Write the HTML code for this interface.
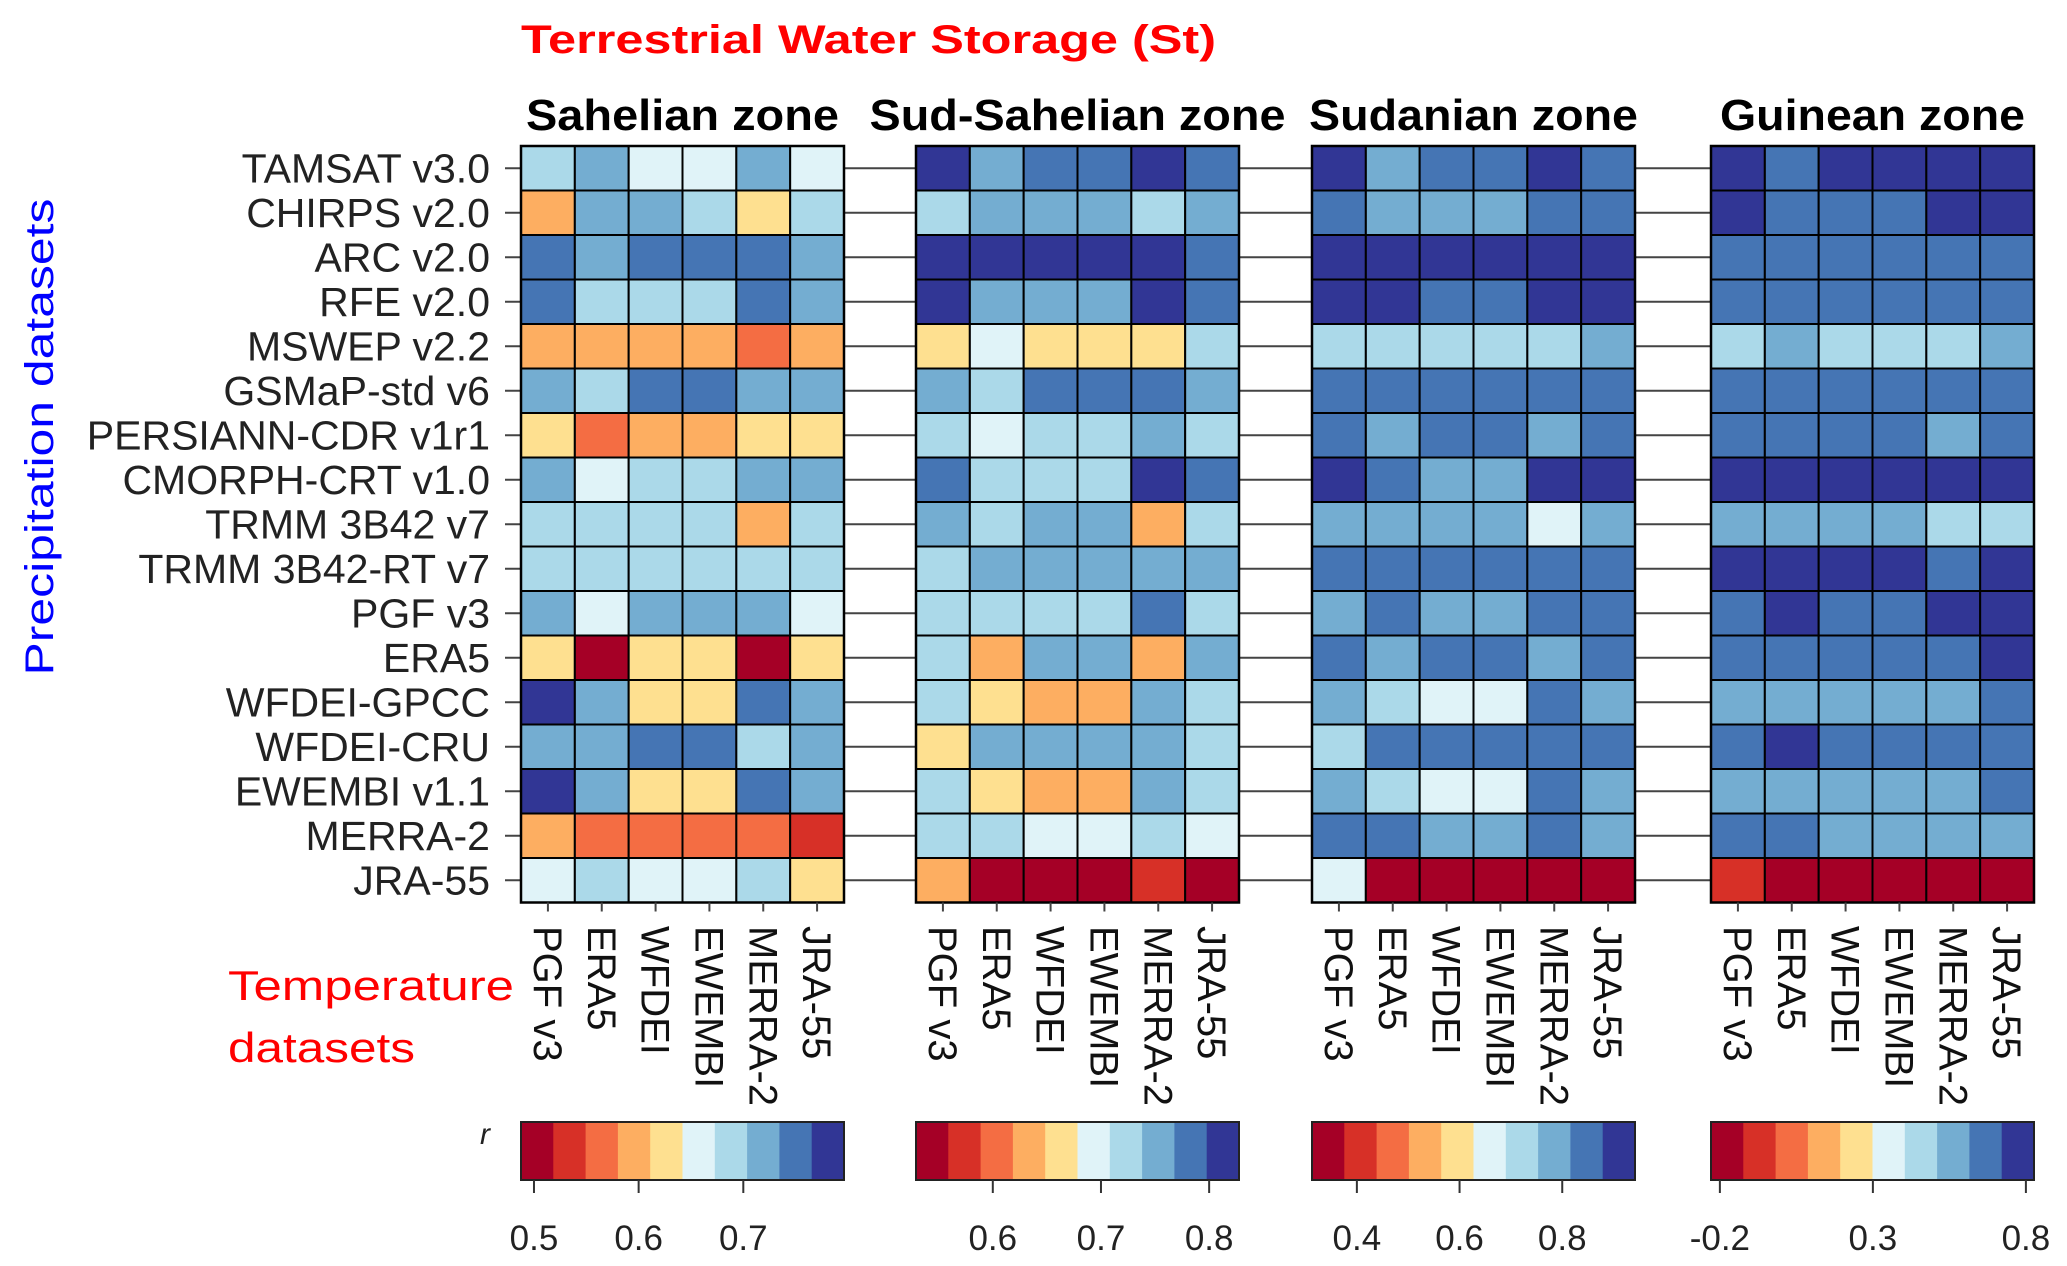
<!DOCTYPE html>
<html><head><meta charset="utf-8"><style>
html,body{margin:0;padding:0;background:#fff;}
svg{display:block;font-family:"Liberation Sans",Arial,sans-serif;}
</style></head><body>
<svg id="chart" width="2067" height="1266" viewBox="0 0 2067 1266" xmlns="http://www.w3.org/2000/svg">
<text x="521" y="53" font-size="40" font-weight="bold" fill="#ff0000" textLength="695" lengthAdjust="spacingAndGlyphs">Terrestrial Water Storage (St)</text>
<text transform="translate(53,437) rotate(-90)" text-anchor="middle" font-size="40" fill="#0000ff" textLength="477" lengthAdjust="spacingAndGlyphs">Precipitation datasets</text>
<text x="228" y="1000" font-size="42" fill="#ff0000" textLength="286" lengthAdjust="spacingAndGlyphs">Temperature</text>
<text x="228" y="1062" font-size="42" fill="#ff0000" textLength="187" lengthAdjust="spacingAndGlyphs">datasets</text>
<text x="480" y="1144" font-size="30" font-style="italic" fill="#222">r</text>
<g id="g"></g>
</svg>
<script>
const rowLabels = ["TAMSAT v3.0","CHIRPS v2.0","ARC v2.0","RFE v2.0","MSWEP v2.2","GSMaP-std v6","PERSIANN-CDR v1r1","CMORPH-CRT v1.0","TRMM 3B42 v7","TRMM 3B42-RT v7","PGF v3","ERA5","WFDEI-GPCC","WFDEI-CRU","EWEMBI v1.1","MERRA-2","JRA-55"];
const colLabels = ["PGF v3","ERA5","WFDEI","EWEMBI","MERRA-2","JRA-55"];
const zoneTitles = ["Sahelian zone","Sud-Sahelian zone","Sudanian zone","Guinean zone"];
const palette = ["#a50026","#d73027","#f46d43","#fdae61","#fee090","#e0f3f8","#abd9e9","#74add1","#4575b4","#313695"];
const scaleMin = [0.4876,0.529,0.3126,-0.229];
const scaleMax = [0.7962,0.8276,0.9417,0.8265];
const tickValues1 = [0.5,0.6,0.7];
const tickValues2 = [0.6,0.7,0.8];
const tickValues3 = [0.4,0.6,0.8];
const tickValues4 = [-0.2,0.3,0.8];
const tickLabels1 = ["0.5","0.6","0.7"];
const tickLabels2 = ["0.6","0.7","0.8"];
const tickLabels3 = ["0.4","0.6","0.8"];
const tickLabels4 = ["-0.2","0.3","0.8"];
const sahelian = [
[.69,.72,.66,.66,.72,.66],[.60,.72,.72,.69,.63,.69],[.75,.72,.75,.75,.75,.72],[.75,.69,.69,.69,.75,.72],
[.60,.60,.60,.60,.57,.60],[.72,.69,.75,.75,.72,.72],[.63,.57,.60,.60,.63,.63],[.72,.66,.69,.69,.72,.72],
[.69,.69,.69,.69,.60,.69],[.69,.69,.69,.69,.69,.69],[.72,.66,.72,.72,.72,.66],[.63,.50,.63,.63,.50,.63],
[.78,.72,.63,.63,.75,.72],[.72,.72,.75,.75,.69,.72],[.78,.72,.63,.63,.75,.72],[.60,.57,.57,.57,.57,.53],
[.66,.69,.66,.66,.69,.63]];
const sudSahelian = [
[.81,.75,.78,.78,.81,.78],[.72,.75,.75,.75,.72,.75],[.81,.81,.81,.81,.81,.78],[.81,.75,.75,.75,.81,.78],
[.66,.69,.66,.66,.66,.72],[.75,.72,.78,.78,.78,.75],[.72,.69,.72,.72,.75,.72],[.78,.72,.72,.72,.81,.78],
[.75,.72,.75,.75,.63,.72],[.72,.75,.75,.75,.75,.75],[.72,.72,.72,.72,.78,.72],[.72,.63,.75,.75,.63,.75],
[.72,.66,.63,.63,.75,.72],[.66,.75,.75,.75,.75,.72],[.72,.66,.63,.63,.75,.72],[.72,.72,.69,.69,.72,.69],
[.63,.54,.54,.54,.57,.54]];
const sudanian = [
[.91,.78,.85,.85,.91,.85],[.85,.78,.78,.78,.85,.85],[.91,.91,.91,.91,.91,.91],[.91,.91,.85,.85,.91,.91],
[.72,.72,.72,.72,.72,.78],[.85,.85,.85,.85,.85,.85],[.85,.78,.85,.85,.78,.85],[.91,.85,.78,.78,.91,.91],
[.78,.78,.78,.78,.66,.78],[.85,.85,.85,.85,.85,.85],[.78,.85,.78,.78,.85,.85],[.85,.78,.85,.85,.78,.85],
[.78,.72,.66,.66,.85,.78],[.72,.85,.85,.85,.85,.85],[.78,.72,.66,.66,.85,.78],[.85,.85,.78,.78,.85,.78],
[.66,.34,.34,.34,.34,.34]];
const guinean = [
[.77,.67,.77,.77,.77,.77],[.77,.67,.67,.67,.77,.77],[.67,.67,.67,.67,.67,.67],[.67,.67,.67,.67,.67,.67],
[.46,.56,.46,.46,.46,.56],[.67,.67,.67,.67,.67,.67],[.67,.67,.67,.67,.56,.67],[.77,.77,.77,.77,.77,.77],
[.56,.56,.56,.56,.46,.46],[.77,.77,.77,.77,.67,.77],[.67,.77,.67,.67,.77,.77],[.67,.67,.67,.67,.67,.77],
[.56,.56,.56,.56,.56,.67],[.67,.77,.67,.67,.67,.67],[.56,.56,.56,.56,.56,.67],[.67,.67,.56,.56,.56,.56],
[-.07,-.18,-.18,-.18,-.18,-.18]];

const zones=[sahelian,sudSahelian,sudanian,guinean];
const tickVals=[tickValues1,tickValues2,tickValues3,tickValues4];
const tickLabs=[tickLabels1,tickLabels2,tickLabels3,tickLabels4];
const titleLen=[313,416,329,305];
const panelX=[521,916,1312,1711], PW=323, TOP=146, RH=44.5, CW=PW/6;
const CB_TOP=1122, CB_H=58;
const NS="http://www.w3.org/2000/svg";
const g=document.getElementById('g');
function mk(tag,attrs,parent){const e=document.createElementNS(NS,tag);for(const k in attrs)e.setAttribute(k,attrs[k]);(parent||g).appendChild(e);return e;}
function yScale(i){return TOP+i*RH;}
function xScale(p,j){return panelX[p]+j*CW;}
function cbScale(p,v){return panelX[p]+(v-scaleMin[p])/(scaleMax[p]-scaleMin[p])*PW;}
function colorOf(p,v){let k=Math.floor((v-scaleMin[p])/(scaleMax[p]-scaleMin[p])*10);k=Math.max(0,Math.min(9,k));return palette[k];}

rowLabels.forEach((lab,i)=>{
  const cy=yScale(i)+RH/2;
  const t=mk('text',{x:490,y:cy+14,'text-anchor':'end','font-size':41,fill:'#222'});
  
  
  t.textContent=lab;
  const l=mk('line',{x1:505,x2:521,y1:cy,y2:cy,stroke:'#444','stroke-width':2});
  
  
  for(let p=0;p<3;p++){
    const c=mk('line',{x1:panelX[p]+PW,x2:panelX[p+1],y1:cy,y2:cy,stroke:'#444','stroke-width':2});
    
    
  }
});

zones.forEach((data,p)=>{
  const tt=mk('text',{x:panelX[p]+PW/2,y:130,'text-anchor':'middle','font-size':44,'font-weight':'bold',fill:'#000',textLength:titleLen[p],lengthAdjust:'spacingAndGlyphs'});
  
  
  tt.textContent=zoneTitles[p];
  data.forEach((row,i)=>row.forEach((v,j)=>{
    const r=mk('rect',{x:xScale(p,j),y:yScale(i),width:CW,height:RH,fill:colorOf(p,v),stroke:'#000','stroke-width':2});
    
    
  }));
  const fr=mk('rect',{x:panelX[p],y:TOP,width:PW,height:RH*17,fill:'none',stroke:'#000','stroke-width':2.5});
  
  
  colLabels.forEach((lab,j)=>{
    const cx=xScale(p,j)+CW/2;
    const tk=mk('line',{x1:cx,x2:cx,y1:TOP+RH*17,y2:TOP+RH*17+9,stroke:'#444','stroke-width':2});
    
    
    const t=mk('text',{transform:`translate(${cx-14},926) rotate(90)`,'font-size':40,fill:'#111'});
    
    
    t.textContent=lab;
  });
  for(let k=0;k<10;k++){
    const r=mk('rect',{x:panelX[p]+k*PW/10,y:CB_TOP,width:PW/10+0.5,height:CB_H,fill:palette[k]});
    
    
  }
  const cf=mk('rect',{x:panelX[p],y:CB_TOP,width:PW,height:CB_H,fill:'none',stroke:'#222','stroke-width':2});
  
  
  tickVals[p].forEach((v,k)=>{
    const x=cbScale(p,v);
    const l=mk('line',{x1:x,x2:x,y1:CB_TOP+CB_H,y2:CB_TOP+CB_H+13,stroke:'#333','stroke-width':2});
    
    
    const t=mk('text',{x:x,y:1250,'text-anchor':'middle','font-size':35,fill:'#222'});
    
    
    t.textContent=tickLabs[p][k];
  });
});
</script>
</body></html>
